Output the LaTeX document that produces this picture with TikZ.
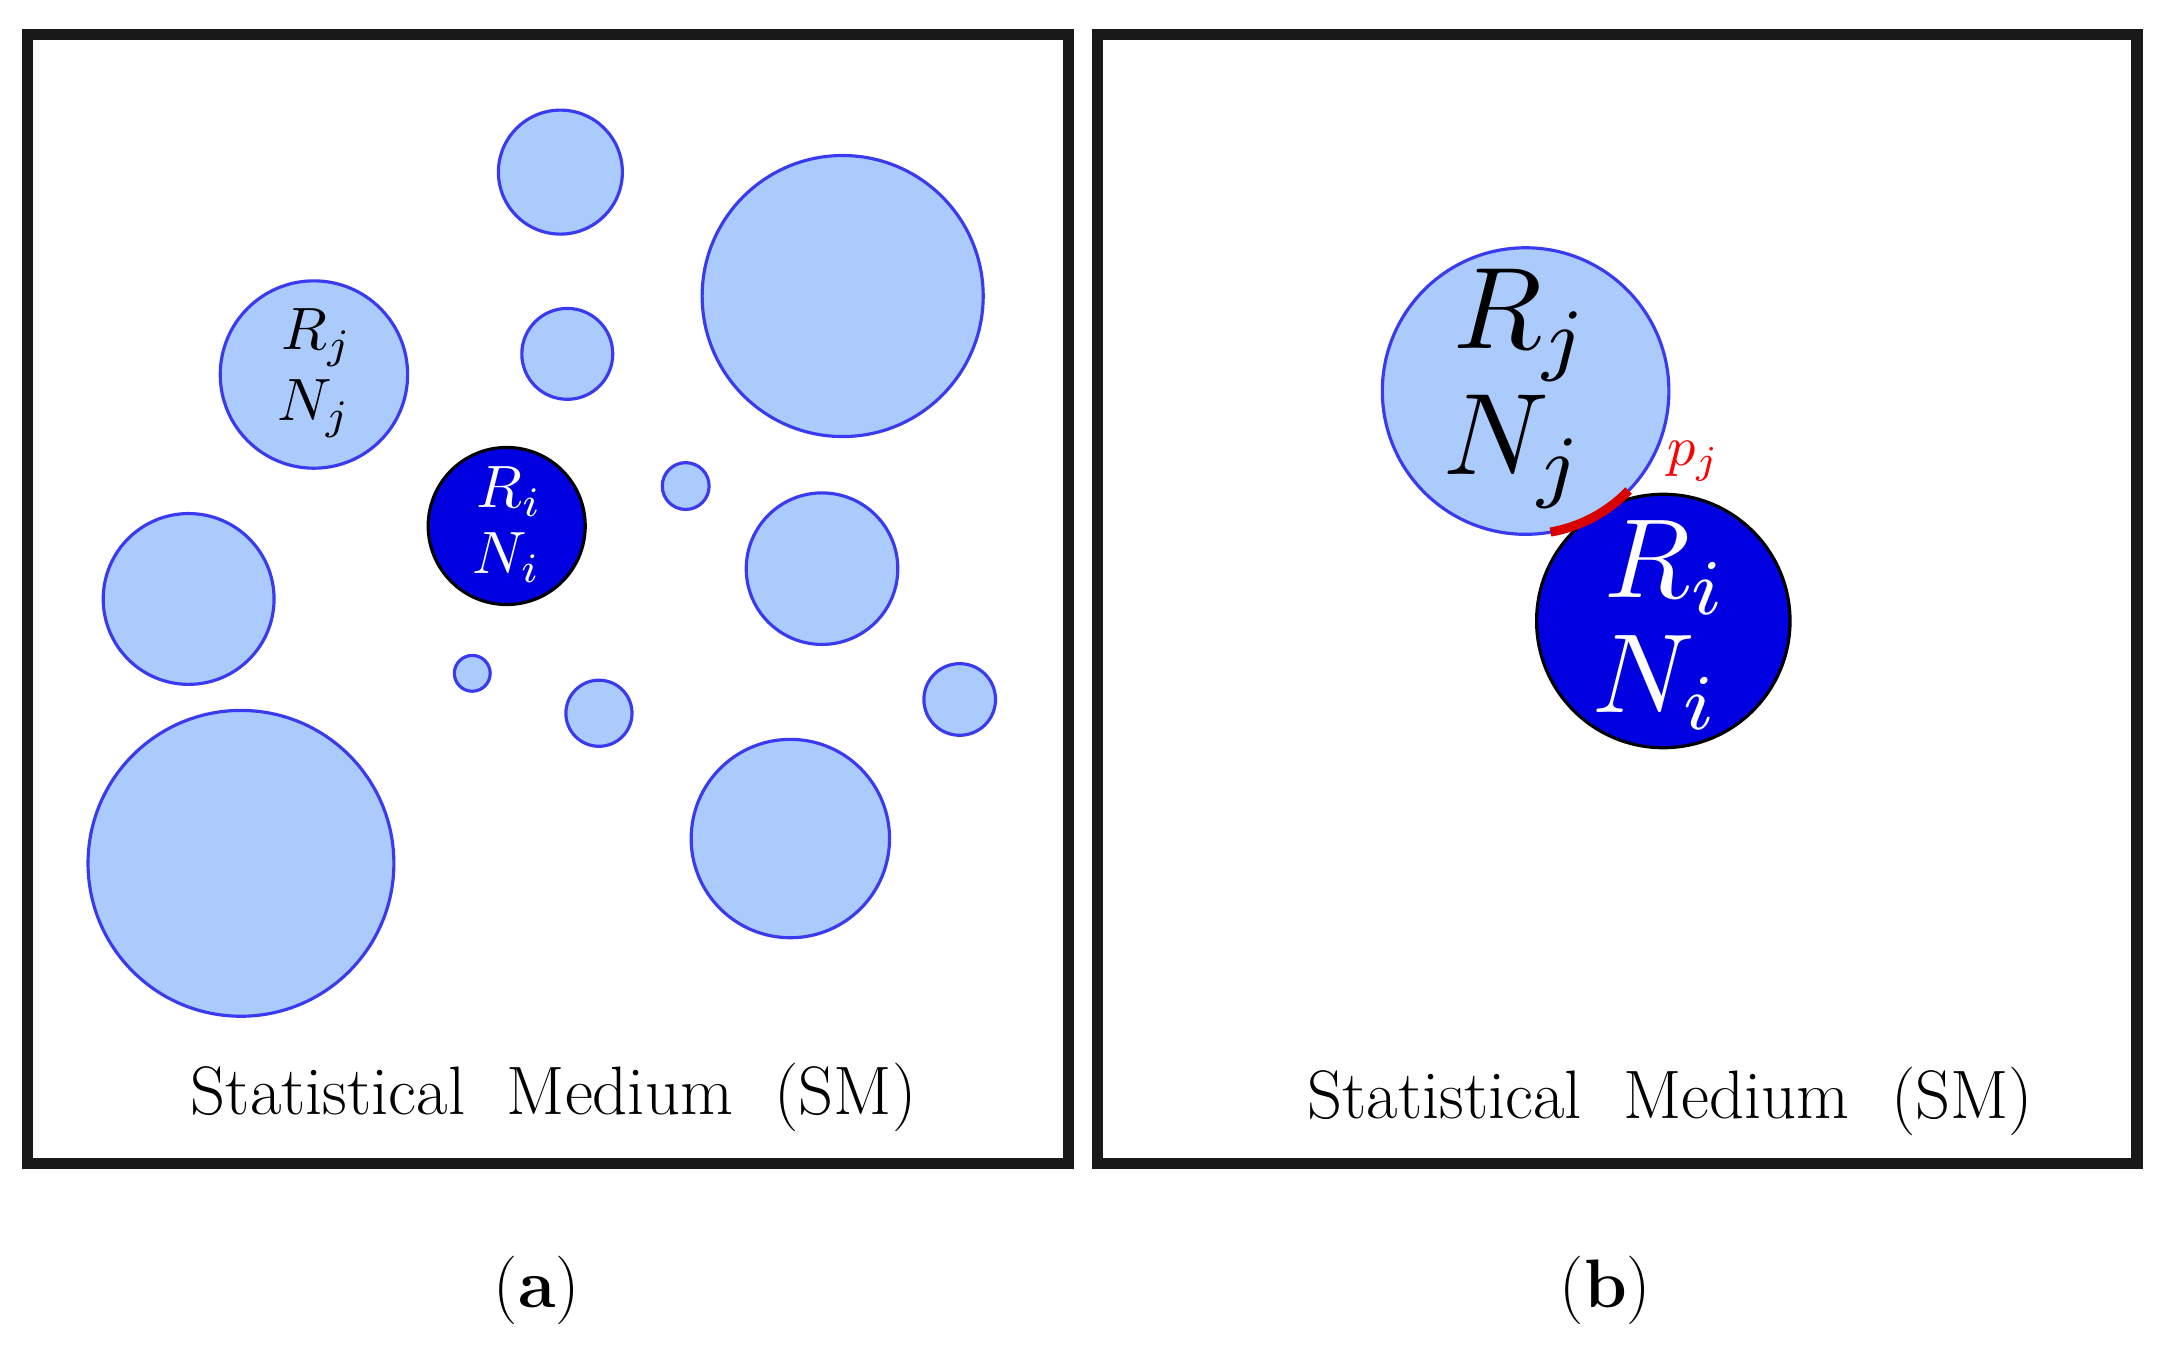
\documentclass[tikz,border=0pt]{standalone}
\usepackage{graphicx}
\usetikzlibrary{calc}
\definecolor{lb}{HTML}{AACBFC}
\definecolor{lbd}{HTML}{3A3AF0}
\definecolor{db}{HTML}{0000E0}
\begin{document}
\begin{tikzpicture}[x=0.01377cm,y=-0.01377cm,
  sm/.style={circle,draw=lbd,fill=lb,line width=0.9pt,inner sep=0pt,minimum size=#1*0.02754cm},
  big/.style={circle,draw=black,fill=db,line width=0.9pt,inner sep=0pt,minimum size=#1*0.02754cm},
  frame/.style={draw=black!90,line width=3.2pt},
  lbl/.style={font=\fontsize{19.5}{23}\selectfont}]
\useasboundingbox (0,0) rectangle (1568,977.5);
\draw[frame] (20,25) rectangle (776,845);
\draw[frame] (797,25) rectangle (1552,845);
% left panel
\node[sm=45] (c1) at (407,125) {};
\node[sm=102] (c2) at (612,215) {};
\node[sm=68] (cj) at (228,272) {};
\node[sm=33] (c3) at (412,257) {};
\node[sm=17] (c4) at (498,353) {};
\node[sm=62] (c5) at (137,435) {};
\node[sm=55] (c6) at (597,413) {};
\node[sm=13] (c7) at (343,489) {};
\node[sm=24] (c8) at (435,518) {};
\node[sm=26] (c9) at (697,508) {};
\node[sm=111] (c10) at (175,627) {};
\node[sm=72] (c11) at (574,609) {};
\node[big=57] (ci) at (368,382) {};
\node (tj) at (230,245) {\scalebox{1.7}{$R_j$}};
\node (tj2) at (228,297) {\scalebox{1.7}{$N_j$}};
\node[text=white] (ti) at (370,357) {\scalebox{1.7}{$R_i$}};
\node[text=white] (ti2) at (368,405) {\scalebox{1.7}{$N_i$}};
\node[lbl] (sa) at (402,797) {Statistical\ \ Medium\ \ (SM)};
% right panel
\node[sm=104] (bj) at (1108,284) {};
\node[big=92] (bi) at (1208,451) {};
\draw[red!85!black,line width=2.6pt] ($(bj.center)+(80:104)$) arc[start angle=80,end angle=44,radius=104];
\node[text=red] (pj) at (1230,335) {\scalebox{1.6}{$p_j$}};
\node (rj) at (1105,236) {\scalebox{3.3}{$R_j$}};
\node (nj) at (1100,328) {\scalebox{3.3}{$N_j$}};
\node[text=white] (ri) at (1210,412) {\scalebox{3.2}{$R_i$}};
\node[text=white] (ni) at (1203,496) {\scalebox{3.2}{$N_i$}};
\node[lbl] (sb) at (1213,800) {Statistical\ \ Medium\ \ (SM)};
\node[lbl] (a) at (390,937) {(\textbf{a})};
\node[lbl] (b) at (1166,937) {(\textbf{b})};
\end{tikzpicture}
\end{document}
